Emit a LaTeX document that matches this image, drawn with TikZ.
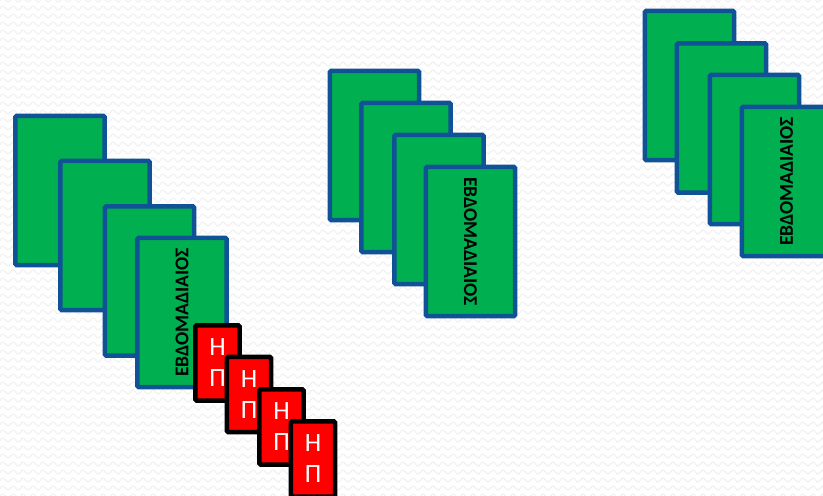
\documentclass[tikz,border=0pt]{standalone}
\usepackage{fontspec}
\setmainfont{Carlito}
\usetikzlibrary{decorations.pathmorphing}
\definecolor{cardgreen}{RGB}{0,176,80}
\definecolor{cardblue}{RGB}{16,82,150}
\definecolor{cardred}{RGB}{255,0,0}
\tikzset{
  wave/.style={black!6,line width=0.02cm,decorate,
    decoration={snake,amplitude=0.04cm,segment length=0.2cm}},
  weekcard/.style={draw=cardblue,fill=cardgreen,line width=0.09cm,
    rounded corners=0.03cm,minimum width=1.79cm,minimum height=2.99cm,inner sep=0pt},
  weeklabel/.style={weekcard,minimum width=2.99cm,minimum height=1.79cm,
    font=\fontsize{11.1}{13}\selectfont\bfseries},
  hpcard/.style={draw=black,fill=cardred,text=white,line width=0.09cm,
    rounded corners=0.03cm,minimum width=0.89cm,minimum height=1.51cm,inner sep=0pt,
    align=center,font=\fontsize{15}{17.6}\selectfont}
}

\begin{document}
\begin{tikzpicture}[x=0.02cm,y=-0.02cm]
\clip (0,0) rectangle (823,496);
\fill[white] (0,0) rectangle (823,496);
\foreach \r in {0,8,...,504}
  \draw[wave] (-10,\r) -- (833,\r);
% left pile
\node[weekcard] (l1) at (60,190.5) {};
\node[weekcard] (l2) at (105,235.5) {};
\node[weekcard] (l3) at (149.5,281) {};
\node[weeklabel,rotate=90] (l4) at (182,312.5) {ΕΒΔΟΜΑΔΙΑΙΟΣ};
% middle pile
\node[weekcard] (m1) at (374.5,145.5) {};
\node[weekcard] (m2) at (406,177.5) {};
\node[weekcard] (m3) at (439,209.5) {};
\node[weeklabel,rotate=-90] (m4) at (470.5,241.5) {ΕΒΔΟΜΑΔΙΑΙΟΣ};
% right pile
\node[weekcard] (r1) at (689.5,85.5) {};
\node[weekcard] (r2) at (721.5,118) {};
\node[weekcard] (r3) at (754.5,149.5) {};
\node[weeklabel,rotate=90] (r4) at (786.5,181.5) {ΕΒΔΟΜΑΔΙΑΙΟΣ};
% red cards
\node[hpcard] (hp1) at (217.5,363) {Η\\Π};
\node[hpcard] (hp2) at (249,394.5) {Η\\Π};
\node[hpcard] (hp3) at (281.5,427) {Η\\Π};
\node[hpcard] (hp4) at (313,459) {Η\\Π};
\end{tikzpicture}
\end{document}
